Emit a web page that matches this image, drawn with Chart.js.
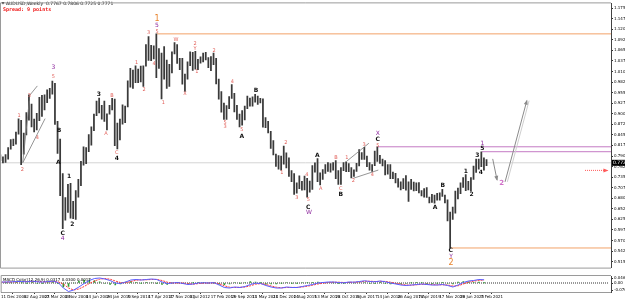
<!DOCTYPE html>
<html lang="en">
<head>
  <meta charset="UTF-8" />
  <title>AUDUSD Weekly</title>
  <script src="https://cdn.jsdelivr.net/npm/chart.js"></script>
  <style>
    body { margin: 0; background: #fff; width: 625px; height: 301px; overflow: hidden; }
    #mainBox { position: absolute; left: 0; top: 0; width: 625px; height: 271px; }
    #macdBox { position: absolute; left: 0; top: 271px; width: 625px; height: 30px; }
  </style>
</head>
<body>
  <div id="mainBox"><canvas id="mainChart"></canvas></div>
  <div id="macdBox"><canvas id="macdChart"></canvas></div>

  <script>
    // weekly bars grouped by 4 weeks, week 0 = 11 Dec 2006
    const periodLows = [
      0.7780, 0.7720, 0.7730, 0.7820, 0.8080, 0.8170, 0.8210, 0.8470, 0.7675, 0.7950, 0.8450, 0.8830, 0.8660,
      0.8530, 0.8580, 0.8820, 0.8930, 0.9100, 0.9290, 0.9400, 0.9510, 0.8720, 0.7970, 0.6870, 0.6009, 0.6230,
      0.6430, 0.6280, 0.6270, 0.6250, 0.6830, 0.7130, 0.7660, 0.7700, 0.8010, 0.8180, 0.8560, 0.8950, 0.9020,
      0.8860, 0.8800, 0.8580, 0.8990, 0.9100, 0.8170, 0.8087, 0.8320, 0.8730, 0.8770, 0.9180, 0.9690, 0.9660,
      0.9810, 0.9810, 0.9830, 0.9710, 1.0240, 1.0390, 1.0380, 1.0430, 0.9940, 1.0180, 0.9386, 0.9900, 0.9660,
      0.9710, 1.0060, 1.0560, 1.0310, 1.0150, 0.9770, 0.9580, 0.9900, 1.0250, 1.0130, 1.0160, 1.0150, 1.0320,
      1.0350, 1.0400, 1.0200, 1.0120, 1.0280, 0.9780, 0.9380, 0.9040, 0.8850, 0.8850, 0.9130, 0.9400, 0.9050,
      0.8850, 0.8660, 0.8700, 0.8840, 0.9130, 0.9200, 0.9200, 0.9300, 0.9240, 0.9280, 0.8650, 0.8640, 0.8500,
      0.8100, 0.7930, 0.7630, 0.7560, 0.7533, 0.7690, 0.7590, 0.7370, 0.7230, 0.6900, 0.6930, 0.7050, 0.7010,
      0.7020, 0.6827, 0.6960, 0.7030, 0.7480, 0.7230, 0.7145, 0.7290, 0.7450, 0.7500, 0.7480, 0.7530, 0.7310,
      0.7160, 0.7160, 0.7520, 0.7490, 0.7490, 0.7330, 0.7370, 0.7500, 0.7640, 0.7810, 0.7810, 0.7620, 0.7530,
      0.7500, 0.7650, 0.7760, 0.7710, 0.7640, 0.7410, 0.7430, 0.7310, 0.7310, 0.7200, 0.7090, 0.7020, 0.7050,
      0.7010, 0.6720, 0.7030, 0.6990, 0.7000, 0.6940, 0.6860, 0.6830, 0.6820, 0.6680, 0.6690, 0.6670, 0.6750,
      0.6750, 0.6850, 0.6680, 0.6210, 0.5506, 0.6250, 0.6410, 0.6780, 0.6920, 0.7080, 0.7000, 0.7020, 0.6991,
      0.7290, 0.7470, 0.7560, 0.7620, 0.7530, 0.7650
    ];
    const periodHighs = [
      0.7930, 0.7880, 0.7935, 0.8120, 0.8330, 0.8340, 0.8520, 0.8870, 0.8830, 0.8500, 0.9030, 0.9495, 0.9250,
      0.8860, 0.9010, 0.9430, 0.9480, 0.9490, 0.9620, 0.9660, 0.9849, 0.9790, 0.8800, 0.8340, 0.7440, 0.6820,
      0.7160, 0.7190, 0.6720, 0.7000, 0.7290, 0.7760, 0.8140, 0.8120, 0.8460, 0.8660, 0.8990, 0.9330, 0.9405,
      0.9220, 0.9330, 0.9000, 0.9220, 0.9400, 0.9380, 0.8760, 0.8860, 0.9230, 0.9200, 0.9860, 1.0180, 1.0140,
      1.0250, 1.0160, 1.0240, 1.0250, 1.0800, 1.1012, 1.0780, 1.0770, 1.1080, 1.0700, 1.0580, 1.0750, 1.0400,
      1.0290, 1.0610, 1.0855, 1.0800, 1.0440, 1.0440, 1.0030, 1.0350, 1.0615, 1.0600, 1.0625, 1.0420, 1.0480,
      1.0580, 1.0600, 1.0460, 1.0490, 1.0582, 1.0440, 0.9900, 0.9580, 0.9280, 0.9210, 0.9450, 0.9757, 0.9530,
      0.9220, 0.8990, 0.9080, 0.9200, 0.9460, 0.9410, 0.9440, 0.9505, 0.9460, 0.9400, 0.9390, 0.8900, 0.8800,
      0.8540, 0.8300, 0.7950, 0.7910, 0.7900, 0.8160, 0.7980, 0.7850, 0.7520, 0.7440, 0.7200, 0.7382, 0.7240,
      0.7380, 0.7320, 0.7250, 0.7650, 0.7720, 0.7835, 0.7460, 0.7550, 0.7680, 0.7730, 0.7700, 0.7730, 0.7778,
      0.7520, 0.7600, 0.7730, 0.7750, 0.7700, 0.7600, 0.7540, 0.7710, 0.8070, 0.7990, 0.8125, 0.7900, 0.7730,
      0.7680, 0.8030, 0.8136, 0.7920, 0.7820, 0.7780, 0.7680, 0.7680, 0.7480, 0.7450, 0.7310, 0.7230, 0.7310,
      0.7390, 0.7230, 0.7295, 0.7220, 0.7200, 0.7210, 0.7000, 0.7050, 0.7080, 0.6830, 0.6900, 0.6880, 0.6930,
      0.6940, 0.7030, 0.6880, 0.6760, 0.6440, 0.6570, 0.6990, 0.7064, 0.7200, 0.7340, 0.7414, 0.7240, 0.7340,
      0.7640, 0.7820, 0.7820, 0.8007, 0.7850, 0.7810
    ];

    // MACD pane, one value every 8 weeks
    const macdMain = [
      0.010, 0.010, 0.012, 0.015, 0.015, 0.012, 0.018, 0.012, 0.010, 0.014,
      0.018, 0.005, -0.050, -0.085, -0.070, -0.040, -0.005, 0.025, 0.045, 0.050,
      0.040, 0.025, 0.000, -0.005, 0.010, 0.030, 0.035, 0.030, 0.035, 0.040,
      0.035, 0.010, -0.005, 0.000, 0.005, -0.005, -0.015, -0.010, 0.000, 0.002,
      0.000, 0.003, -0.020, -0.045, -0.050, -0.040, -0.045, -0.035, -0.015, -0.002,
      -0.005, -0.025, -0.040, -0.050, -0.050, -0.040, -0.045, -0.045, -0.035, -0.025,
      -0.015, 0.000, 0.005, 0.010, 0.010, 0.005, 0.002, 0.010, 0.008, 0.015,
      0.022, 0.015, 0.012, 0.020, 0.012, 0.000, -0.010, -0.020, -0.025, -0.020,
      -0.015, -0.010, -0.015, -0.020, -0.020, -0.015, -0.025, -0.040, -0.020, 0.005,
      0.020, 0.025, 0.035, 0.032
    ];
    const macdSignal = [
      0.008, 0.009, 0.010, 0.012, 0.014, 0.014, 0.014, 0.015, 0.012, 0.012,
      0.014, 0.012, -0.010, -0.050, -0.070, -0.060, -0.035, -0.005, 0.020, 0.038,
      0.045, 0.038, 0.020, 0.005, 0.002, 0.015, 0.028, 0.032, 0.032, 0.035,
      0.036, 0.025, 0.008, 0.000, 0.000, 0.000, -0.008, -0.012, -0.006, -0.002,
      0.000, 0.001, -0.008, -0.028, -0.042, -0.045, -0.043, -0.040, -0.028, -0.012,
      -0.006, -0.014, -0.030, -0.042, -0.048, -0.045, -0.044, -0.044, -0.040, -0.032,
      -0.022, -0.010, -0.002, 0.005, 0.008, 0.008, 0.005, 0.006, 0.008, 0.010,
      0.017, 0.018, 0.015, 0.016, 0.016, 0.008, -0.003, -0.012, -0.020, -0.022,
      -0.018, -0.013, -0.012, -0.016, -0.018, -0.018, -0.020, -0.030, -0.028, -0.010,
      0.008, 0.018, 0.026, 0.030
    ];
    const macdHist = [
      0.002, 0.001, 0.002, 0.003, 0.001, -0.002, 0.004, -0.003, -0.002, 0.002,
      0.004, -0.007, -0.040, -0.035, 0.000, 0.020, 0.030, 0.030, 0.025, 0.012,
      -0.005, -0.013, -0.020, -0.010, 0.008, 0.015, 0.007, -0.002, 0.003, 0.005,
      -0.001, -0.015, -0.013, 0.000, 0.005, -0.005, -0.007, 0.002, 0.006, 0.004,
      0.000, 0.002, -0.012, -0.017, -0.008, 0.005, -0.002, 0.005, 0.013, 0.010,
      0.001, -0.011, -0.010, -0.008, -0.002, 0.005, -0.001, -0.001, 0.005, 0.007,
      0.007, 0.010, 0.007, 0.005, 0.002, -0.003, -0.003, 0.004, 0.000, 0.005,
      0.005, -0.003, -0.003, 0.004, -0.004, -0.008, -0.007, -0.008, -0.005, 0.002,
      0.003, 0.003, -0.003, -0.004, -0.002, 0.003, -0.005, -0.010, 0.008, 0.015,
      0.012, 0.007, 0.009, 0.002
    ];

    // axis labels
    const dateTickWeeks = [0, 35, 67, 99, 131, 163, 195, 227, 259, 291, 323, 355, 387, 419, 451, 483, 515, 547, 579, 611, 643, 675, 707, 739];
    const dateTickLabels = ['11 Dec 2006', '12 Aug 2007', '23 Mar 2008', '2 Nov 2008', '14 Jun 2009', '24 Jan 2010',
      '5 Sep 2010', '17 Apr 2011', '27 Nov 2011', '8 Jul 2012', '17 Feb 2013', '29 Sep 2013', '11 May 2014',
      '21 Dec 2014', '2 Aug 2015', '13 Mar 2016', '23 Oct 2016', '4 Jun 2017', '14 Jan 2018', '26 Aug 2018',
      '7 Apr 2019', '17 Nov 2019', '28 Jun 2020', '7 Feb 2021'];
    const priceTicks = [1.1750, 1.1475, 1.1200, 1.0925, 1.0650, 1.0375, 1.0100, 0.9825, 0.9550, 0.9275, 0.9000,
      0.8725, 0.8450, 0.8175, 0.7900, 0.7625, 0.7350, 0.7075, 0.6800, 0.6525, 0.6250, 0.5975, 0.5700, 0.5425, 0.5150];
    const macdTicks = [0.0462, 0, -0.0701];

    // horizontal levels
    const levelPrice = [1.1080, 0.5506, 0.8140, 0.8012, 0.7723, 0.7526];
    const levelStart = [241, 693, 581, 741, -5, 899.5];
    const levelEnd = [939.5, 939.5, 939.5, 939.5, 939.5, 934];
    const levelColor = ['#f2a268', '#f2a268', '#c47ac4', '#c47ac4', '#d4d4d4', '#ff5a5a'];
    const currentPrice = 0.7723;

    // trend lines [week0, week1], [price0, price1]
    const trendWeeks = [[34.5, 44.6], [34.5, 68.8], [44.6, 56.9], [532.9, 567], [543.1, 581.5]];
    const trendPrices = [[0.7730, 0.9342], [0.7723, 0.8873], [0.9469, 0.9725], [0.7764, 0.8233], [0.7321, 0.7534]];

    // projected path
    const projWeeks1 = [757.5, 764.2];
    const projPrices1 = [0.7825, 0.7278];
    const projWeeks2 = [776.5, 810];
    const projPrices2 = [0.7227, 0.9341];

    // wave labels
    const labelText = ['1', '5', '5', '3', '4', 'W', 'X', '2', 'Y', '1', '1', '2', '3', '5', '3', '3', 'B', '1', '4', '2',
      'B', 'A', '1', '2', 'C', '4', 'A', 'C', '4', '1', '2', '4', '5', '3', '5', 'A', 'B', '2', '1', '3',
      '4', '5', 'C', 'W', 'A', 'A', 'B', 'C', 'B', '1', '2', '3', '4', 'X', 'C', '5', 'A', 'B', 'C', 'Y',
      '2', '1', '2', '3', '4', '5', '1', '2'];
    const labelKind = ['o', 'v', 'p', 'p', 'p', 'p', 'p', 'p', 'p', 'p', 'p', 'p', 'v', 'p', 'p', 'k', 'p', 'p', 'p', 'p',
      'k', 'k', 'k', 'k', 'k', 'v', 'p', 'p', 'k', 'p', 'p', 'p', 'p', 'p', 'p', 'k', 'k', 'p', 'p', 'p',
      'p', 'p', 'k', 'v', 'k', 'p', 'p', 'p', 'k', 'p', 'p', 'p', 'p', 'v', 'k', 'p', 'k', 'k', 'k', 'v',
      'o', 'k', 'k', 'k', 'k', 'k', 'v', 'm'];
    const labelWeek = [241, 241, 241, 228, 236.5, 270.3, 284.2, 299.5, 299.5, 302.2, 209.8, 221.1, 81.5, 81.5, 44.6, 151.4, 171.8, 28.8, 56.9, 33.8,
      90.3, 89.2, 105.7, 110.8, 96, 96, 162.6, 179.1, 179.1, 250.8, 328.8, 356.9, 345.7, 345.7, 371.4, 371.4, 393.4, 439.1, 432.9, 456,
      471.4, 473.8, 473.8, 474.9, 487.7, 492.9, 516.5, 523.7, 523.7, 532.9, 543.1, 559.5, 572.3, 580.6, 580.6, 580.6, 668.8, 680.6, 692.9, 693.4,
      693.4, 716, 725.2, 733.8, 739.1, 741.5, 741.5, 771.4];
    const labelPrice = [1.1471, 1.1302, 1.1149, 1.1106, 1.0295, 1.0919, 0.9513, 1.0832, 1.0704, 1.0083, 1.0339, 0.9615, 1.0193, 0.9955, 0.9469, 0.9513, 0.9469, 0.8958, 0.8377, 0.7552,
      0.8574, 0.7723, 0.7380, 0.6127, 0.5889, 0.5744, 0.8490, 0.7978, 0.7833, 0.9298, 1.0638, 0.9835, 0.8771, 0.8651, 0.8574, 0.8403, 0.9615, 0.8234, 0.7467, 0.6810,
      0.7406, 0.6759, 0.6572, 0.6444, 0.7910, 0.7040, 0.7866, 0.7058, 0.6912, 0.7851, 0.7252, 0.8198, 0.7424, 0.8490, 0.8335, 0.8181, 0.6554, 0.7124, 0.5429, 0.5274,
      0.5105, 0.7508, 0.6912, 0.7910, 0.7482, 0.8088, 0.8234, 0.7194];

    const labelStyles = {
      p: { color: '#e2625c', font: '5px "DejaVu Sans"' },
      k: { color: '#111111', font: 'bold 6px "DejaVu Sans"' },
      v: { color: '#8e2a9e', font: '6px "DejaVu Sans"' },
      o: { color: '#e8822a', font: '8px "DejaVu Sans"' },
      m: { color: '#d070c8', font: 'bold 7px "DejaVu Sans"' }
    };

    const priceBars = periodLows.map((lo, i) => ({ x: i * 4, y: [lo, periodHighs[i]] }));
    const weekMin = 1;
    const weekMax = 939.5;

    const mainDatasets = [{
      type: 'bar',
      data: priceBars,
      backgroundColor: '#3a3a3a',
      barThickness: 1.1,
      order: 2
    }];

    levelPrice.forEach((p, i) => {
      mainDatasets.push({
        type: 'line',
        data: [{ x: levelStart[i], y: p }, { x: levelEnd[i], y: p }],
        borderColor: levelColor[i],
        borderWidth: 1,
        borderDash: i === 5 ? [1, 1] : [],
        pointRadius: 0,
        arrowEnd: i === 5,
        order: 3
      });
    });

    trendWeeks.forEach((w, i) => {
      mainDatasets.push({
        type: 'line',
        data: [{ x: w[0], y: trendPrices[i][0] }, { x: w[1], y: trendPrices[i][1] }],
        borderColor: '#7a7a7a',
        borderWidth: 0.8,
        pointRadius: 0,
        order: 1
      });
    });

    mainDatasets.push({
      type: 'line',
      data: projWeeks2.map((w, i) => ({ x: w + 3.5, y: projPrices2[i] })),
      borderColor: '#cfcfcf',
      borderWidth: 1,
      pointRadius: 0,
      order: 1
    });
    mainDatasets.push({
      type: 'line',
      data: projWeeks1.map((w, i) => ({ x: w, y: projPrices1[i] })),
      borderColor: '#8a8a8a',
      borderWidth: 1,
      pointRadius: 0,
      arrowEnd: true,
      order: 0
    });
    mainDatasets.push({
      type: 'line',
      data: projWeeks2.map((w, i) => ({ x: w, y: projPrices2[i] })),
      borderColor: '#8a8a8a',
      borderWidth: 1,
      pointRadius: 0,
      arrowEnd: true,
      order: 0
    });

    const framePlugin = {
      id: 'frame',
      afterDraw(chart) {
        const { ctx, chartArea: a } = chart;
        ctx.save();
        ctx.strokeStyle = '#9a9a9a';
        ctx.lineWidth = 1;
        ctx.beginPath();
        ctx.moveTo(a.right, a.top - 0.5);
        ctx.lineTo(a.left - 0.5, a.top - 0.5);
        ctx.lineTo(a.left - 0.5, a.bottom + 0.5);
        ctx.lineTo(a.right, a.bottom + 0.5);
        ctx.stroke();
        ctx.restore();
      }
    };

    const arrowPlugin = {
      id: 'arrows',
      afterDatasetsDraw(chart) {
        const ctx = chart.ctx;
        chart.data.datasets.forEach((ds, i) => {
          if (!ds.arrowEnd) return;
          const pts = chart.getDatasetMeta(i).data;
          const a = pts[pts.length - 2], b = pts[pts.length - 1];
          const ang = Math.atan2(b.y - a.y, b.x - a.x);
          ctx.save();
          ctx.fillStyle = ds.borderColor;
          ctx.translate(b.x, b.y);
          ctx.rotate(ang);
          ctx.beginPath();
          ctx.moveTo(1, 0);
          ctx.lineTo(-4, -2);
          ctx.lineTo(-4, 2);
          ctx.closePath();
          ctx.fill();
          ctx.restore();
        });
      }
    };

    const wavePlugin = {
      id: 'waves',
      afterDatasetsDraw(chart) {
        const { ctx, scales: { x, y } } = chart;
        ctx.save();
        ctx.textAlign = 'center';
        ctx.textBaseline = 'middle';
        labelText.forEach((t, i) => {
          const st = labelStyles[labelKind[i]];
          ctx.fillStyle = st.color;
          ctx.font = st.font;
          ctx.fillText(t, x.getPixelForValue(labelWeek[i]), y.getPixelForValue(labelPrice[i]));
        });

        // header texts
        ctx.textAlign = 'left';
        ctx.fillStyle = '#000';
        ctx.font = '4.5px "DejaVu Sans"';
        ctx.fillText('AUDUSD,Weekly  0.7767 0.7806 0.7725 0.7771', 6, 3.5);
        ctx.beginPath();
        ctx.moveTo(1.5, 2); ctx.lineTo(4.5, 2); ctx.lineTo(3, 4.5); ctx.closePath();
        ctx.fill();
        ctx.fillStyle = '#ee1111';
        ctx.font = 'bold 5px "DejaVu Sans Mono"';
        ctx.fillText('Spread: 9 points', 3, 9.5);

        // current price tag
        const py = y.getPixelForValue(currentPrice);
        ctx.fillStyle = '#000';
        ctx.fillRect(x.right + 1, py - 3, 14, 6);
        ctx.fillStyle = '#fff';
        ctx.font = '4.5px "DejaVu Sans"';
        ctx.fillText(currentPrice.toFixed(4), x.right + 2, py + 0.3);
        ctx.restore();
      }
    };

    new Chart(document.getElementById('mainChart'), {
      type: 'line',
      data: { datasets: mainDatasets },
      options: {
        responsive: true,
        maintainAspectRatio: false,
        animation: false,
        layout: { padding: { left: 1, top: 1, right: 0, bottom: 1 } },
        plugins: { legend: { display: false }, tooltip: { enabled: false } },
        scales: {
          x: { type: 'linear', display: false, min: weekMin, max: weekMax, offset: false },
          y: {
            position: 'right',
            min: 0.4995,
            max: 1.1873,
            afterBuildTicks: s => { s.ticks = priceTicks.map(v => ({ value: v })); },
            afterFit: s => { s.width = 14; },
            ticks: {
              autoSkip: false,
              padding: 1,
              color: '#000',
              font: { size: 4, family: 'DejaVu Sans' },
              callback: v => v.toFixed(4)
            },
            grid: { drawOnChartArea: false, drawTicks: true, tickLength: 2, color: '#333' },
            border: { display: true, color: '#444' }
          }
        }
      },
      plugins: [framePlugin, arrowPlugin, wavePlugin]
    });

    const macdPlugin = {
      id: 'macdText',
      afterDraw(chart) {
        const ctx = chart.ctx;
        ctx.save();
        ctx.fillStyle = '#000';
        ctx.font = '4px "DejaVu Sans"';
        ctx.textBaseline = 'middle';
        ctx.fillText('MACD Color(12,26,9) 0.0317 0.0300 0.0017', 3, 8.5);
        ctx.restore();
      }
    };

    new Chart(document.getElementById('macdChart'), {
      type: 'line',
      data: {
        datasets: [
          {
            data: macdMain.map((v, i) => ({ x: i * 8, y: v })),
            borderColor: '#5a5cff',
            borderWidth: 1,
            pointRadius: 0
          },
          {
            data: macdSignal.map((v, i) => ({ x: i * 8, y: v })),
            borderColor: '#ff3b3b',
            borderWidth: 1,
            borderDash: [2, 1],
            pointRadius: 0
          },
          {
            type: 'bar',
            data: macdHist.map((v, i) => ({ x: i * 8, y: v })),
            backgroundColor: '#2f9a2f',
            barThickness: 1
          },
          {
            data: [{ x: 0, y: 0 }, { x: 936, y: 0 }],
            borderColor: '#333',
            borderWidth: 1,
            borderDash: [1, 1],
            pointRadius: 0
          }
        ]
      },
      options: {
        responsive: true,
        maintainAspectRatio: false,
        animation: false,
        layout: { padding: { left: 1, top: 5, right: 0, bottom: 0 } },
        plugins: { legend: { display: false }, tooltip: { enabled: false } },
        scales: {
          x: {
            type: 'linear',
            min: weekMin,
            max: weekMax,
            offset: false,
            afterBuildTicks: s => { s.ticks = dateTickWeeks.map(v => ({ value: v })); },
            afterFit: s => { s.height = 9; },
            ticks: {
              autoSkip: false,
              maxRotation: 0,
              align: 'start',
              padding: 1,
              color: '#000',
              font: { size: 4, family: 'DejaVu Sans' },
              callback: (v, i) => dateTickLabels[i]
            },
            grid: { drawOnChartArea: false, drawTicks: true, tickLength: 2, color: '#333' },
            border: { display: true, color: '#444' }
          },
          y: {
            position: 'right',
            min: -0.09,
            max: 0.07,
            afterBuildTicks: s => { s.ticks = macdTicks.map(v => ({ value: v })); },
            afterFit: s => { s.width = 14; },
            ticks: {
              autoSkip: false,
              padding: 1,
              color: '#000',
              font: { size: 4, family: 'DejaVu Sans' },
              callback: v => (v === 0 ? '0.00' : v.toFixed(4))
            },
            grid: { drawOnChartArea: false, drawTicks: true, tickLength: 2, color: '#333' },
            border: { display: true, color: '#444' }
          }
        }
      },
      plugins: [framePlugin, macdPlugin]
    });
  </script>
</body>
</html>
